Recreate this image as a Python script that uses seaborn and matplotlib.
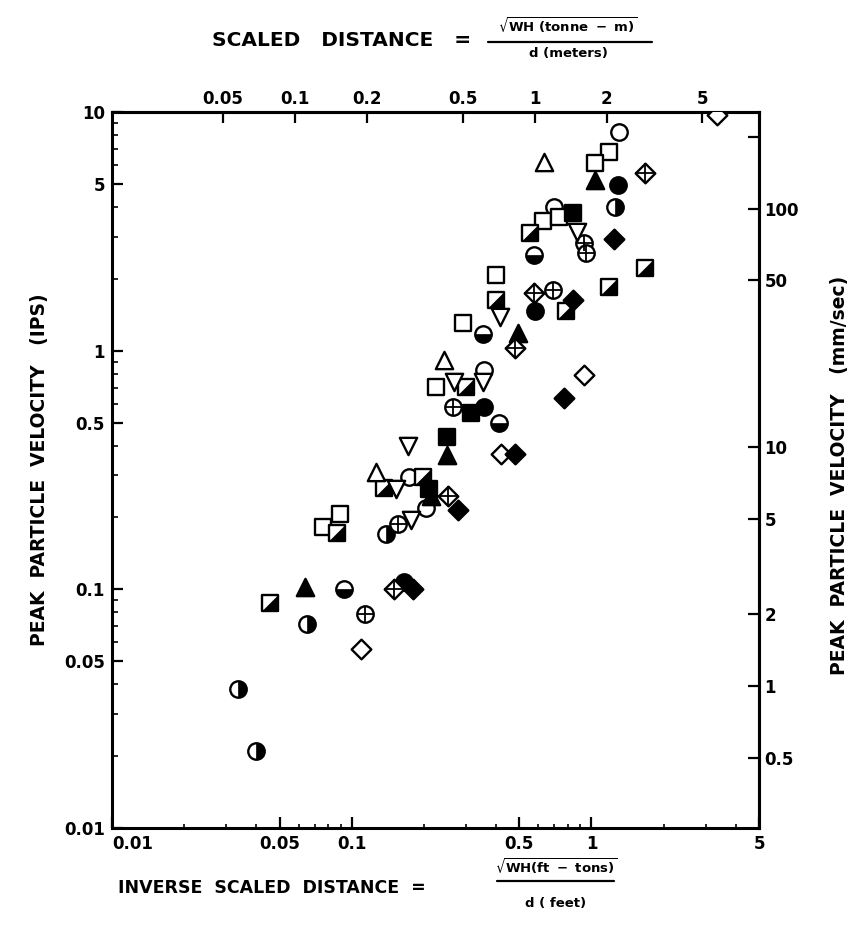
import numpy as np
import matplotlib
matplotlib.use("Agg")
import matplotlib.pyplot as plt
from matplotlib.path import Path
from matplotlib.lines import Line2D
from matplotlib.ticker import NullLocator, LogLocator, NullFormatter
import seaborn as sns

sns.set_style("ticks")
plt.rcParams['font.family'] = ['DejaVu Sans']
plt.rcParams['font.weight'] = 'bold'
for key in ['text.color', 'axes.labelcolor', 'xtick.color', 'ytick.color', 'axes.edgecolor']:
    plt.rcParams[key] = 'black'

# ---------------- data (inverse scaled distance, peak particle velocity ips) -------------
open_circle_x = [1.30, 0.70, 0.357, 0.173, 0.204]
open_circle_y = [8.25, 4.0, 0.83, 0.297, 0.22]

filled_circle_x = [1.29, 0.58, 0.356, 0.165]
filled_circle_y = [4.95, 1.46, 0.58, 0.107]

half_bottom_circle_x = [0.577, 0.353, 0.41, 0.093]
half_bottom_circle_y = [2.52, 1.17, 0.50, 0.10]

half_side_circle_x = [1.25, 0.139, 0.065, 0.0337, 0.040]
half_side_circle_y = [4.0, 0.17, 0.0714, 0.0382, 0.021]

crossed_circle_x = [0.935, 0.95, 0.69, 0.264, 0.156, 0.114]
crossed_circle_y = [2.83, 2.57, 1.80, 0.583, 0.187, 0.0786]

open_square_x = [1.18, 1.03, 0.63, 0.735, 0.40, 0.291, 0.224, 0.089, 0.076]
open_square_y = [6.8, 6.1, 3.5, 3.64, 2.08, 1.30, 0.707, 0.206, 0.182]

filled_square_x = [0.84, 0.314, 0.25, 0.21]
filled_square_y = [3.78, 0.55, 0.436, 0.263]

half_square_x = [0.556, 1.67, 1.18, 0.40, 0.78, 0.30, 0.198, 0.136, 0.087, 0.0458]
half_square_y = [3.12, 2.22, 1.84, 1.63, 1.46, 0.707, 0.297, 0.267, 0.173, 0.088]

open_tri_x = [0.636, 0.243, 0.126]
open_tri_y = [6.2, 0.917, 0.309]

filled_tri_x = [1.03, 0.495, 0.25, 0.0636, 0.214]
filled_tri_y = [5.2, 1.19, 0.367, 0.102, 0.245]

inv_tri_x = [0.87, 0.415, 0.267, 0.353, 0.171, 0.153, 0.176]
inv_tri_y = [3.15, 1.39, 0.74, 0.74, 0.40, 0.263, 0.196]

open_diamond_x = [3.33, 0.935, 0.42, 0.109]
open_diamond_y = [9.7, 0.79, 0.37, 0.056]

filled_diamond_x = [1.24, 0.84, 0.77, 0.48, 0.18, 0.277]
filled_diamond_y = [2.94, 1.63, 0.635, 0.37, 0.10, 0.216]

crossed_diamond_x = [1.67, 0.577, 0.48, 0.15, 0.252]
crossed_diamond_y = [5.56, 1.75, 1.03, 0.10, 0.245]

bottom_ticks = [0.01, 0.05, 0.1, 0.5, 1, 5]
bottom_labels = ['0.01', '0.05', '0.1', '0.5', '1', '5']
top_ticks = [0.05, 0.1, 0.2, 0.5, 1, 2, 5]
top_labels = ['0.05', '0.1', '0.2', '0.5', '1', '2', '5']
left_ticks = [0.01, 0.05, 0.1, 0.5, 1, 5, 10]
left_labels = ['0.01', '0.05', '0.1', '0.5', '1', '5', '10']
right_ticks = [200, 100, 50, 10, 5, 2, 1, 0.5]
right_labels = ['', '100', '50', '10', '5', '2', '1', '0.5']

FT_TO_METRIC = 1.725
IPS_TO_MMS = 25.4

# ---------------- custom marker paths -----------------
theta = np.linspace(np.pi, 2 * np.pi, 40)
half_bottom = Path(np.column_stack([np.cos(theta), np.sin(theta)]).tolist() + [[-1, 0]], closed=True)
theta2 = np.linspace(-np.pi / 2, np.pi / 2, 40)
half_right = Path(np.column_stack([np.cos(theta2), np.sin(theta2)]).tolist() + [[0, -1]], closed=True)
diag_half = Path([[-1, -1], [1, -1], [1, 1], [-1, -1]], closed=True)

# ---------------- figure -----------------
fig = plt.figure(figsize=(8.65, 9.32), dpi=100)
ax = fig.add_axes([112 / 865, 1 - 828 / 932, (759 - 112) / 865, (828 - 112) / 932])
ax.set_xscale('log')
ax.set_yscale('log')
ax.set_xlim(0.01, 5)
ax.set_ylim(0.01, 10)

LW = 1.7
S_CIRC = 140
S_SQ = 130
S_TRI = 155
S_DIA = 100
K = 'black'
W = 'white'


def pts(x, y, **kw):
    sns.scatterplot(x=x, y=y, ax=ax, legend=False, zorder=3, **kw)


# circles
pts(open_circle_x, open_circle_y, marker='o', s=S_CIRC, color=W, edgecolor=K, linewidth=LW)
pts(filled_circle_x, filled_circle_y, marker='o', s=S_CIRC, color=K, edgecolor=K, linewidth=LW)
pts(half_bottom_circle_x, half_bottom_circle_y, marker='o', s=S_CIRC, color=W, edgecolor=K, linewidth=LW)
pts(half_bottom_circle_x, half_bottom_circle_y, marker=half_bottom, s=S_CIRC, color=K, edgecolor=K, linewidth=0.5)
pts(half_side_circle_x, half_side_circle_y, marker='o', s=S_CIRC, color=W, edgecolor=K, linewidth=LW)
pts(half_side_circle_x, half_side_circle_y, marker=half_right, s=S_CIRC, color=K, edgecolor=K, linewidth=0.5)
pts(crossed_circle_x, crossed_circle_y, marker='o', s=S_CIRC, color=W, edgecolor=K, linewidth=LW)
pts(crossed_circle_x, crossed_circle_y, marker='+', s=S_CIRC, color=K, linewidth=1.3)
# squares
pts(open_square_x, open_square_y, marker='s', s=S_SQ, color=W, edgecolor=K, linewidth=LW)
pts(filled_square_x, filled_square_y, marker='s', s=S_SQ, color=K, edgecolor=K, linewidth=LW)
pts(half_square_x, half_square_y, marker='s', s=S_SQ, color=W, edgecolor=K, linewidth=LW)
pts(half_square_x, half_square_y, marker=diag_half, s=S_SQ, color=K, edgecolor=K, linewidth=0.5)
# triangles
pts(open_tri_x, open_tri_y, marker='^', s=S_TRI, color=W, edgecolor=K, linewidth=LW)
pts(filled_tri_x, filled_tri_y, marker='^', s=S_TRI, color=K, edgecolor=K, linewidth=LW)
pts(inv_tri_x, inv_tri_y, marker='v', s=S_TRI, color=W, edgecolor=K, linewidth=LW)
# diamonds
pts(open_diamond_x, open_diamond_y, marker='D', s=S_DIA, color=W, edgecolor=K, linewidth=LW)
pts(filled_diamond_x, filled_diamond_y, marker='D', s=S_DIA, color=K, edgecolor=K, linewidth=LW)
pts(crossed_diamond_x, crossed_diamond_y, marker='D', s=S_DIA, color=W, edgecolor=K, linewidth=LW)
pts(crossed_diamond_x, crossed_diamond_y, marker='+', s=S_DIA * 1.9, color=K, linewidth=1.3)

# ---------------- axes styling -----------------
for sp in ax.spines.values():
    sp.set_linewidth(2.2)
    sp.set_color(K)

ax.set_xticks(bottom_ticks)
ax.set_xticklabels(bottom_labels)
ax.set_yticks(left_ticks)
ax.set_yticklabels(left_labels)
ax.xaxis.set_minor_locator(LogLocator(base=10, subs=(2, 3, 4, 6, 7, 8, 9)))
ax.yaxis.set_minor_locator(LogLocator(base=10, subs=(2, 3, 4, 6, 7, 8, 9)))
ax.xaxis.set_minor_formatter(NullFormatter())
ax.yaxis.set_minor_formatter(NullFormatter())
ax.tick_params(which='major', direction='in', length=8, width=1.6, labelsize=12,
               top=False, right=False, pad=5)
ax.tick_params(which='minor', direction='in', length=4, width=1.2, top=False, right=False)
ax.tick_params(axis='x', which='minor', length=3)

xlabs = ax.get_xticklabels()
xlabs[0].set_horizontalalignment('left')

secx = ax.secondary_xaxis('top', functions=(lambda x: x * FT_TO_METRIC, lambda x: x / FT_TO_METRIC))
secx.set_xticks(top_ticks)
secx.set_xticklabels(top_labels)
secx.xaxis.set_minor_locator(NullLocator())
secx.tick_params(which='major', direction='in', length=8, width=1.6, labelsize=12, pad=3)
secx.spines['top'].set_linewidth(2.2)

secy = ax.secondary_yaxis('right', functions=(lambda y: y * IPS_TO_MMS, lambda y: y / IPS_TO_MMS))
secy.set_yticks(right_ticks)
secy.set_yticklabels(right_labels)
secy.yaxis.set_minor_locator(NullLocator())
secy.tick_params(which='major', direction='in', length=8, width=1.6, labelsize=12, pad=4)
secy.spines['right'].set_linewidth(2.2)

for t in ax.get_xticklabels() + ax.get_yticklabels() + secx.get_xticklabels() + secy.get_yticklabels():
    t.set_fontweight('bold')


# ---------------- axis titles -----------------
def fx(px):
    return px / 865


def fy(py):
    return 1 - py / 932


fig.text(fx(40), fy(470), 'PEAK  PARTICLE  VELOCITY   (IPS)', rotation=90,
         ha='center', va='center', fontsize=13.5, fontweight='bold')
fig.text(fx(840), fy(475), 'PEAK  PARTICLE  VELOCITY   (mm/sec)', rotation=90,
         ha='center', va='center', fontsize=13.5, fontweight='bold')

# top title with fraction
fig.text(fx(212), fy(40), 'SCALED   DISTANCE   =', ha='left', va='center',
         fontsize=14.5, fontweight='bold')
fig.text(fx(568), fy(25), r'$\sqrt{\mathbf{WH\ (tonne\ -\ m)}}$', ha='center', va='center',
         fontsize=9.5)
fig.add_artist(Line2D([fx(488), fx(652)], [fy(42), fy(42)], color=K, lw=1.6))
fig.text(fx(568), fy(54), 'd (meters)', ha='center', va='center',
         fontsize=9.5, fontweight='bold')

# bottom title with fraction
fig.text(fx(118), fy(888), 'INVERSE  SCALED  DISTANCE  =', ha='left', va='center',
         fontsize=12.5, fontweight='bold')
fig.text(fx(556), fy(866), r'$\sqrt{\mathbf{WH(ft\ -\ tons)}}$', ha='center', va='center',
         fontsize=9.5)
fig.add_artist(Line2D([fx(497), fx(614)], [fy(881), fy(881)], color=K, lw=1.6))
fig.text(fx(556), fy(903), 'd ( feet)', ha='center', va='center',
         fontsize=9.5, fontweight='bold')

fig.savefig('out.png', dpi=100, facecolor='white')
